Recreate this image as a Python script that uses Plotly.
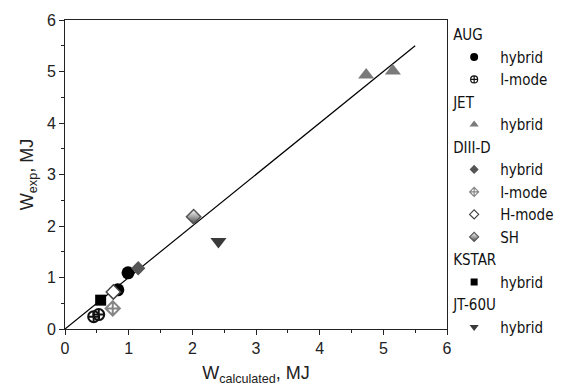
import plotly.graph_objects as go

# Stored energy: calculated vs experimental (MJ), grouped by device and regime
aug_hybrid_x = [0.99, 0.83]
aug_hybrid_y = [1.09, 0.76]
aug_imode_x = [0.45, 0.53]
aug_imode_y = [0.24, 0.28]
jet_hybrid_x = [4.73, 5.15]
jet_hybrid_y = [4.93, 5.01]
d3d_hybrid_x = [1.15]
d3d_hybrid_y = [1.18]
d3d_imode_x = [0.75]
d3d_imode_y = [0.40]
d3d_hmode_x = [0.76]
d3d_hmode_y = [0.72]
d3d_sh_x = [2.02]
d3d_sh_y = [2.18]
kstar_hybrid_x = [0.56]
kstar_hybrid_y = [0.56]
jt60u_hybrid_x = [2.41]
jt60u_hybrid_y = [1.70]

# W_exp = W_calculated reference line
unity_x = [0.0, 5.5]
unity_y = [0.0, 5.5]

axis_ticks = [0, 1, 2, 3, 4, 5, 6]

FONT = "DejaVu Sans Condensed, Liberation Sans Narrow, Arial Narrow, Liberation Sans, Arial, sans-serif"
AXFONT = "Liberation Sans, Arial, sans-serif"

series = [
    # device, regime, x, y, symbol, colour, plot size, legend size, line width, extra marker settings
    ("AUG", "hybrid", aug_hybrid_x, aug_hybrid_y, "circle", "#000000", 13, 8, 0, {}),
    ("AUG", "I-mode", aug_imode_x, aug_imode_y, "circle-cross-open", "#111111", 11, 7, 2, {}),
    ("JET", "hybrid", jet_hybrid_x, jet_hybrid_y, "triangle-up", "#7a7a7a", 14, 8, 0, {}),
    ("DIII-D", "hybrid", d3d_hybrid_x, d3d_hybrid_y, "diamond", "#555555", 11, 7, 0, {}),
    ("DIII-D", "I-mode", d3d_imode_x, d3d_imode_y, "diamond-cross-open", "#858585", 11, 7, 2, {}),
    ("DIII-D", "H-mode", d3d_hmode_x, d3d_hmode_y, "diamond", "#ffffff", 11, 7, 1.5,
     {"line": {"color": "#444444", "width": 1.5}}),
    ("DIII-D", "SH", d3d_sh_x, d3d_sh_y, "diamond", "#ffffff", 11, 7, 1.5,
     {"line": {"color": "#555555", "width": 1.5},
      "gradient": {"type": "vertical", "color": "#4a4a4a"}}),
    ("KSTAR", "hybrid", kstar_hybrid_x, kstar_hybrid_y, "square", "#000000", 11, 7, 0, {}),
    ("JT-60U", "hybrid", jt60u_hybrid_x, jt60u_hybrid_y, "triangle-down", "#3a3a3a", 14, 8, 0, {}),
]

fig = go.Figure()

fig.add_trace(go.Scatter(
    x=unity_x, y=unity_y, mode="lines",
    line=dict(color="#000000", width=1.2),
    showlegend=False, hoverinfo="skip",
))

seen_groups = set()
for device, regime, xs, ys, symbol, colour, psize, lsize, lw, extra in series:
    marker = dict(symbol=symbol, color=colour, size=psize)
    if lw and "line" not in extra:
        marker["line"] = dict(color=colour, width=lw)
    marker.update(extra)
    fig.add_trace(go.Scatter(
        x=xs, y=ys, mode="markers", marker=marker,
        name=regime, showlegend=False, legendgroup=device,
    ))
    # smaller legend-only symbol
    lmarker = dict(marker)
    lmarker["size"] = lsize
    if "line" in lmarker:
        lmarker["line"] = dict(lmarker["line"], width=min(lmarker["line"]["width"], 1.2))
    kwargs = {}
    if device not in seen_groups:
        kwargs["legendgrouptitle"] = dict(text=device, font=dict(size=15, family=FONT, color="#111111"))
        seen_groups.add(device)
    fig.add_trace(go.Scatter(
        x=[None], y=[None], mode="markers", marker=lmarker,
        name=regime, legendgroup=device, showlegend=True, **kwargs,
    ))

axis_common = dict(
    range=[0, 6],
    tickvals=axis_ticks,
    ticks="outside", ticklen=5, tickwidth=1, tickcolor="#222222",
    minor=dict(ticks="outside", ticklen=3, tickwidth=1, tickcolor="#222222", dtick=0.5),
    showline=True, linecolor="#222222", linewidth=1, mirror=True,
    showgrid=False, zeroline=False,
    tickfont=dict(size=16, family=AXFONT, color="#222222"),
)

fig.update_layout(
    width=564, height=391,
    margin=dict(l=65, r=117, t=20, b=62, autoexpand=False),
    paper_bgcolor="#ffffff", plot_bgcolor="#ffffff",
    font=dict(family=FONT, size=15, color="#111111"),
    xaxis=dict(axis_common, title=dict(text="W<sub>calculated</sub>, MJ",
                                       font=dict(size=18, family=AXFONT, color="#222222"), standoff=10)),
    yaxis=dict(axis_common, title=dict(text="W<sub>exp</sub>, MJ",
                                       font=dict(size=18, family=AXFONT, color="#222222"), standoff=8)),
    legend=dict(
        x=1.003, y=1.006, xanchor="left", yanchor="top",
        bgcolor="rgba(0,0,0,0)", borderwidth=0,
        tracegroupgap=0, itemwidth=42, maxheight=420,
        font=dict(size=15, family=FONT, color="#111111"),
        groupclick="toggleitem",
    ),
)

fig.write_html("out.html")
